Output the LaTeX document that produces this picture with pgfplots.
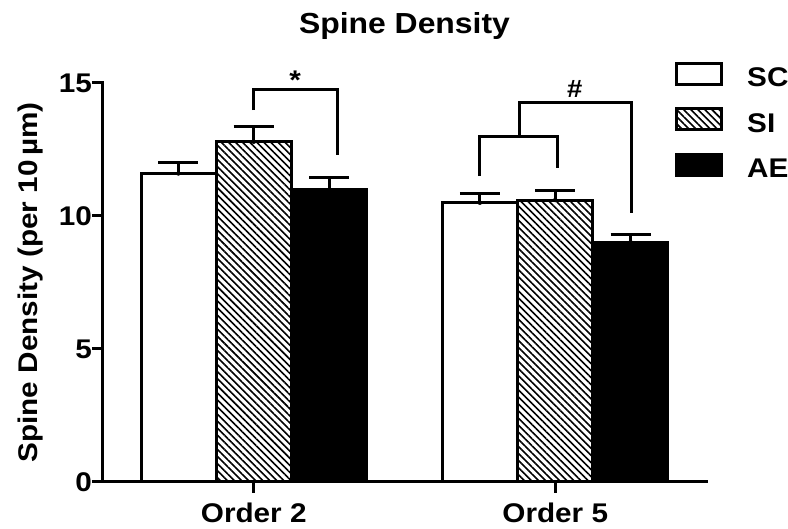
\documentclass[border=0pt]{standalone}
\usepackage{fontspec}
\setmainfont{Liberation Sans}[FakeStretch=1.1]
\usepackage{pgfplots}
\pgfplotsset{compat=1.18}
\usetikzlibrary{patterns.meta}
\newcommand{\lf}{\fontsize{27}{32}\selectfont\bfseries}
\pgfplotsset{
  mylegend/.style={legend image code/.code={\draw[##1,line width=3pt] (0pt,-6.5pt) rectangle (45pt,14.5pt);}},
  myerr/.style={only marks, mark=none, forget plot,
    error bars/.cd, y dir=plus, y explicit, error mark=|,
    error bar style={draw=black, solid, line width=3pt},
    error mark options={draw=black, solid, line width=3pt, mark size=20pt}},
}
\begin{document}
\begin{tikzpicture}
\begin{axis}[
  scale only axis, width=603pt, height=399pt,
  xmin=0.5, xmax=2.5, ymin=0, ymax=15,
  axis x line*=bottom, axis y line*=left,
  axis line style={line width=3pt, line cap=rect},
  major tick style={line width=3pt, black},
  major tick length=11pt, tick align=outside,
  xtick={1,2}, xticklabels={Order 2, Order 5},
  ytick={0,5,10,15}, minor tick num=0,
  /pgf/number format/assume math mode=true,
  xticklabel style={font=\lf, anchor=north, inner sep=0pt, yshift=-10pt},
  yticklabel style={font=\lf, anchor=east, inner sep=0pt},
  title={Spine Density},
  title style={font=\fontsize{29}{34}\selectfont\bfseries, at={(axis description cs:0.5,1.110)}, anchor=base},
  ylabel={Spine Density (per 10\,µm)},
  ylabel style={font=\lf, at={(axis description cs:-0.121,0.5)}, anchor=center},
  clip=false,
  legend style={at={(rel axis cs:0.9486,1.0526)}, anchor=north west, draw=none, fill=none,
    inner sep=0pt, font=\lf, row sep=17pt, column sep=22pt, cells={anchor=west}},
]
\addplot[ybar, bar width=75pt, bar shift=-75pt, draw=black, fill=white, line width=3pt, mylegend]
  coordinates {(1,11.60) (2,10.50)};
\addlegendentry{SC}
\addplot[ybar, bar width=75pt, bar shift=0pt, draw=black, line width=3pt,
  pattern={Lines[angle=-45,distance=5pt,line width=1.6pt]}, mylegend]
  coordinates {(1,12.79) (2,10.60)};
\addlegendentry{SI}
\addplot[ybar, bar width=75pt, bar shift=75pt, draw=black, fill=black, line width=3pt, mylegend]
  coordinates {(1,10.98) (2,9.01)};
\addlegendentry{AE}
% error bars (upper only), at the bar centres
\addplot[myerr] coordinates {(0.75,11.60) +- (0,0.42) (1.75,10.50) +- (0,0.33)};
\addplot[myerr] coordinates {(1.00,12.79) +- (0,0.59) (2.00,10.60) +- (0,0.37)};
\addplot[myerr] coordinates {(1.25,10.98) +- (0,0.45) (2.25,9.01) +- (0,0.31)};
% significance brackets
\addplot[black, line width=3pt, line join=miter, forget plot, mark=none]
  coordinates {(1,13.98) (1,14.77) (1.277,14.77) (1.277,12.29)};
\addplot[black, line width=3pt, line join=miter, forget plot, mark=none]
  coordinates {(1.75,11.5) (1.75,13.0) (2.007,13.0) (2.007,11.8)};
\addplot[black, line width=3pt, line join=miter, forget plot, mark=none]
  coordinates {(1.88,13.0) (1.88,14.25) (2.253,14.25) (2.253,10.11)};
\node[font=\lf, anchor=base] at (axis cs:1.137,14.77) {*};
\node[font=\fontsize{25}{30}\selectfont\bfseries, anchor=base] at (axis cs:2.065,14.44) {\#};
\coordinate (sw) at (rel axis cs:0,0);
\end{axis}
\pgfresetboundingbox
\path[use as bounding box] (sw) ++(-103pt,-47pt) rectangle ++(788pt,529pt);
\end{tikzpicture}
\end{document}
